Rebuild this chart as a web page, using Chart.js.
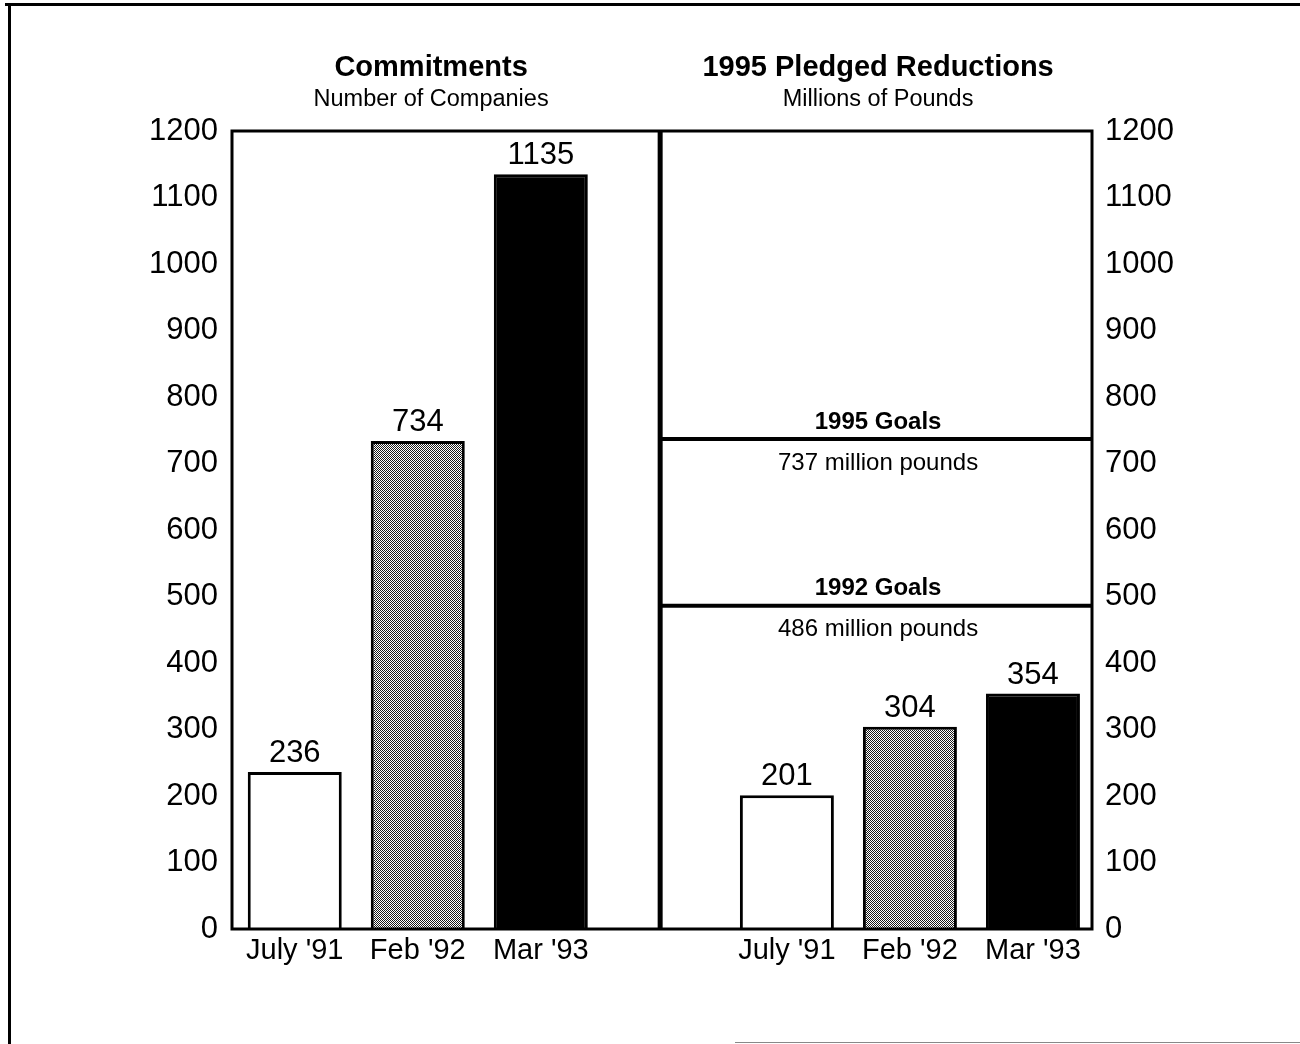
<!DOCTYPE html>
<html>
<head>
<meta charset="utf-8">
<script src="https://cdn.jsdelivr.net/npm/chart.js@4/dist/chart.umd.min.js"></script>
<style>
  html, body { margin: 0; padding: 0; background: #fff; }
  #wrap { position: absolute; left: 0; top: 0; width: 1300px; height: 1044px; }
</style>
</head>
<body>
<div id="wrap"><canvas id="c" width="1300" height="1044"></canvas></div>
<script>
// Periods shown in both panels
const categories = ["July '91", "Feb '92", "Mar '93"];
// Left panel: number of companies committed
const companies = [236, 734, 1135];
// Right panel: 1995 pledged reductions, millions of pounds
const reductions = [201, 304, 354];
// Goal lines in the right panel
const goalValues = [737, 486];
const goalTitles = ["1995 Goals", "1992 Goals"];
const goalNotes = ["737 million pounds", "486 million pounds"];
// Panel headings
const panelTitles = ["Commitments", "1995 Pledged Reductions"];
const panelSubtitles = ["Number of Companies", "Millions of Pounds"];
// Axis range and step
const yMin = 0, yMax = 1200, yStep = 100;

// x positions of each panel's bars on the shared linear axis
const leftPos = categories.map((_, i) => i);
const rightPos = categories.map((_, i) => i + 4);
const DIVIDER = 2.97;

const FONT = "'Liberation Sans', Arial, Helvetica, sans-serif";

// fine stipple fill for the middle bar
function stipple() {
  const p = document.createElement('canvas');
  p.width = 2; p.height = 2;
  const g = p.getContext('2d');
  g.fillStyle = '#fff'; g.fillRect(0, 0, 2, 2);
  g.fillStyle = '#1a1a1a';
  g.fillRect(0, 0, 1, 1);
  g.fillRect(1, 1, 1, 1);
  return g.createPattern(p, 'repeat');
}
const ctx = document.getElementById('c').getContext('2d');
const fills = ['#ffffff', stipple(), '#000000'];

const framePlugin = {
  id: 'frame',
  beforeDraw(chart) {
    const c = chart.ctx;
    c.save();
    c.fillStyle = '#fff';
    c.fillRect(0, 0, chart.width, chart.height);
    // page border
    c.fillStyle = '#000';
    c.fillRect(5, 3, 1295, 3);
    c.fillRect(8, 3, 3, 1041);
    c.fillStyle = '#888';
    c.fillRect(735, 1042, 565, 1);
    c.restore();
  },
  afterDraw(chart) {
    const c = chart.ctx;
    const a = chart.chartArea;
    const xs = chart.scales.x;
    const y2 = chart.scales.y2;
    const divX = xs.getPixelForValue(DIVIDER);
    c.save();
    c.strokeStyle = '#000';
    c.lineWidth = 3;
    c.strokeRect(a.left, a.top, a.right - a.left, a.bottom - a.top);
    c.lineWidth = 5;
    c.beginPath(); c.moveTo(divX, a.top - 1); c.lineTo(divX, a.bottom + 1); c.stroke();

    // goal lines with their labels
    c.textAlign = 'center';
    c.textBaseline = 'middle';
    const midR = (divX + a.right) / 2;
    goalValues.forEach((v, i) => {
      const y = y2.getPixelForValue(v);
      c.lineWidth = 4;
      c.beginPath(); c.moveTo(divX, y); c.lineTo(a.right, y); c.stroke();
      c.fillStyle = '#000';
      c.font = 'bold 24px ' + FONT;
      c.fillText(goalTitles[i], midR + 2, y - 17);
      c.font = '24px ' + FONT;
      c.fillText(goalNotes[i], midR + 2, y + 24);
    });

    // panel headings
    const midL = (a.left + divX) / 2;
    [midL, midR].forEach((cx, i) => {
      const x = cx + (i === 0 ? -15 : 2);
      c.font = 'bold 29px ' + FONT;
      c.fillText(panelTitles[i], x, 68);
      c.font = '23.5px ' + FONT;
      c.fillText(panelSubtitles[i], x, 100);
    });
    c.restore();
  },
  afterDatasetsDraw(chart) {
    const c = chart.ctx;
    c.save();
    c.fillStyle = '#000';
    c.font = '31px ' + FONT;
    c.textAlign = 'center';
    c.textBaseline = 'alphabetic';
    chart.data.datasets.forEach((ds, di) => {
      chart.getDatasetMeta(di).data.forEach((bar, i) => {
        c.fillText(String(ds.data[i].y), bar.x, bar.y - 10);
      });
    });
    c.restore();
  }
};

new Chart(ctx, {
  type: 'bar',
  data: {
    datasets: [
      {
        label: panelTitles[0],
        data: categories.map((_, i) => ({ x: leftPos[i], y: companies[i] })),
        yAxisID: 'y',
        backgroundColor: fills,
        borderColor: '#000',
        borderWidth: 3,
        borderSkipped: 'bottom'
      },
      {
        label: panelTitles[1],
        data: categories.map((_, i) => ({ x: rightPos[i], y: reductions[i] })),
        yAxisID: 'y2',
        backgroundColor: fills,
        borderColor: '#000',
        borderWidth: 3,
        borderSkipped: 'bottom'
      }
    ]
  },
  options: {
    responsive: false,
    animation: false,
    grouped: false,
    categoryPercentage: 1,
    barPercentage: 0.764,
    layout: { padding: { top: 131, left: 0, right: 0, bottom: 0 } },
    plugins: { legend: { display: false }, tooltip: { enabled: false }, title: { display: false } },
    scales: {
      x: {
        type: 'linear',
        offset: false,
        min: -0.51,
        max: 6.48,
        grid: { display: false, drawTicks: false, offset: false },
        border: { display: false },
        afterBuildTicks(s) { s.ticks = leftPos.concat(rightPos).map(v => ({ value: v })); },
        afterFit(s) { s.height = 115; },
        ticks: {
          autoSkip: false,
          maxRotation: 0,
          padding: 5,
          color: '#000',
          font: { family: FONT, size: 29 },
          callback: v => categories[v < 3 ? v : v - 4]
        }
      },
      y: {
        position: 'left',
        min: yMin, max: yMax,
        grid: { display: false, drawTicks: false },
        border: { display: false },
        afterFit(s) { s.width = 232; },
        ticks: { stepSize: yStep, padding: 14, color: '#000', font: { family: FONT, size: 31 }, callback: v => String(v) }
      },
      y2: {
        position: 'right',
        min: yMin, max: yMax,
        grid: { display: false, drawTicks: false },
        border: { display: false },
        afterFit(s) { s.width = 208; },
        ticks: { stepSize: yStep, padding: 13, color: '#000', font: { family: FONT, size: 31 }, callback: v => String(v) }
      }
    }
  },
  plugins: [framePlugin]
});
</script>
</body>
</html>
